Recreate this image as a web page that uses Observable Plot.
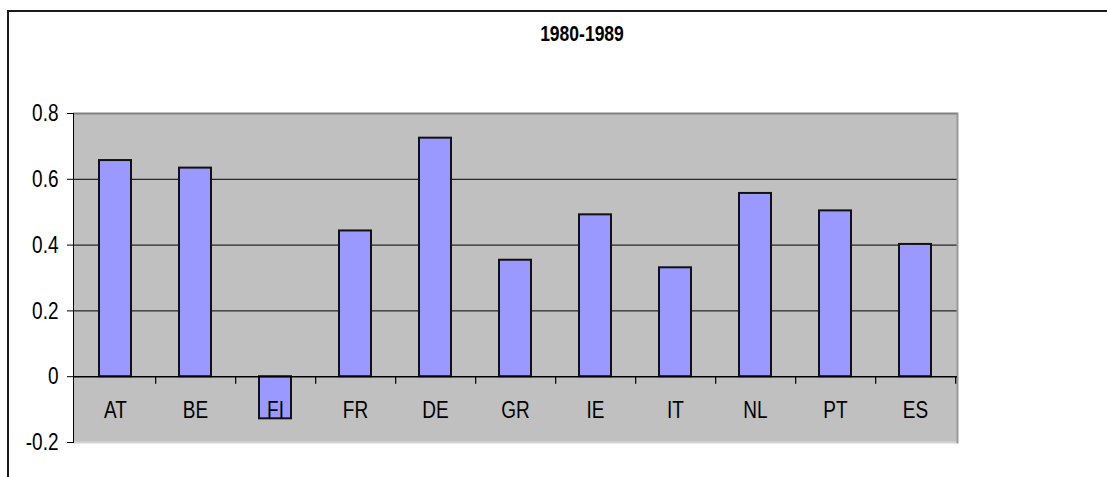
<!DOCTYPE html>
<html><head><meta charset="utf-8">
<script src="https://cdn.jsdelivr.net/npm/d3@7"></script>
<script src="https://cdn.jsdelivr.net/npm/@observablehq/plot@0.6"></script>
<style>
html,body{margin:0;padding:0;background:#fff;width:1107px;height:477px;overflow:hidden;}
#wrap{position:relative;width:1107px;height:477px;}
#border{position:absolute;left:7px;top:10px;width:1200px;height:600px;border-top:2px solid #1a1a1a;border-left:2px solid #1a1a1a;}
#title{position:absolute;left:482px;width:200px;top:24px;text-align:center;font:bold 17.5px "Liberation Sans",Arial,sans-serif;transform:scaleY(1.25);color:#000;}
#chart{position:absolute;left:0;top:0;}
</style>
</head><body>
<div id="wrap"><div id="border"></div><div id="chart"></div><div id="title">1980-1989</div></div>
<script>
const countries = ["AT","BE","FI","FR","DE","GR","IE","IT","NL","PT","ES"];
const values = [0.657,0.634,-0.128,0.443,0.725,0.354,0.492,0.331,0.557,0.504,0.402];
const yTicks = [-0.2,0,0.2,0.4,0.6,0.8];
const gridTicks = [0.2,0.4,0.6];
const data = countries.map((c,i)=>({country:c, value:values[i]}));

const W = 1107, H = 477, ML = 73, MR = 150, MT = 113, MB = 35;
const step = (W - ML - MR) / countries.length;

const plot = Plot.plot({
  width: W, height: H,
  marginLeft: ML, marginRight: MR, marginTop: MT, marginBottom: MB,
  style: {fontFamily: '"Liberation Sans", Arial, sans-serif', fontSize: '19px', background: 'transparent', color: '#000'},
  x: {domain: countries, paddingInner: 0.6, paddingOuter: 0.3, axis: null},
  y: {domain: [-0.2, 0.8], axis: null},
  marks: [
    Plot.frame({fill: "#c0c0c0", stroke: null}),
    Plot.ruleY(gridTicks, {stroke: "#000", strokeWidth: 1}),
    Plot.ruleY([0.8], {stroke: "#808080", strokeWidth: 2}),
    Plot.ruleY([-0.2], {stroke: "#d4d4d4", strokeWidth: 2}),
    Plot.frame({anchor: "right", stroke: "#999", strokeWidth: 2}),
    Plot.frame({anchor: "left", stroke: "#000", strokeWidth: 1}),
    Plot.barY(data, {x: "country", y: "value", fill: "#9999ff", stroke: "#111", strokeWidth: 2}),
    Plot.ruleY([0], {stroke: "#000", strokeWidth: 1.5}),
    Plot.ruleX(countries, {x: d => d, y1: 0, y2: -0.023, dx: step / 2, stroke: "#000", strokeWidth: 1.2}),
    Plot.axisY({ticks: yTicks, tickSize: 6, tickPadding: 9, tickFormat: d => String(d), label: null, fontSize: 19}),
    Plot.text(countries, {x: d => d, y: 0, dy: 34, text: d => d, fill: "#000", fontSize: 19})
  ]
});
document.getElementById("chart").appendChild(plot);
plot.querySelectorAll("text").forEach(t => {
  const b = t.getBBox();
  const cy = b.y + b.height / 2;
  t.setAttribute("transform", (t.getAttribute("transform") || "") + ` translate(0,${cy}) scale(1,1.25) translate(0,${-cy})`);
});
</script>
</body></html>
